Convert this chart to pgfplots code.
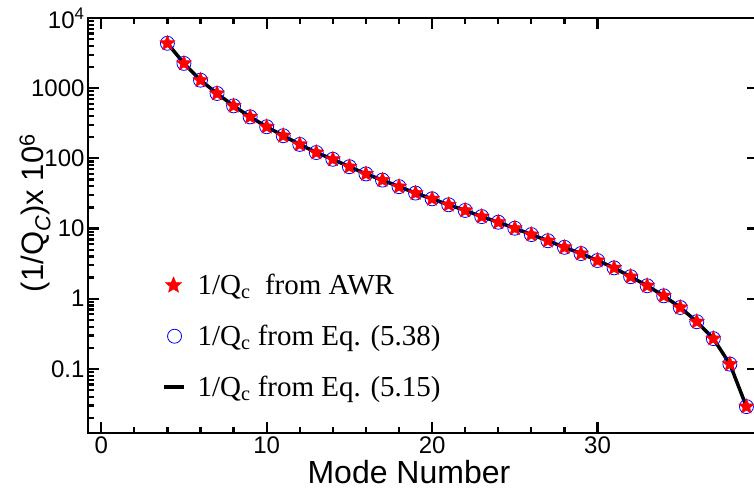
\documentclass[border=0pt]{standalone}
\usepackage{fontspec}
\setmainfont{Liberation Sans}
\newfontfamily\legfont{Liberation Serif}
\usepackage{pgfplots}
\usepackage{pgfplotstable}
\pgfplotsset{compat=1.18}

\pgfdeclareplotmark{fivestar}{%
  \pgfpathmoveto{\pgfpointpolar{90}{\pgfplotmarksize}}%
  \pgfpathlineto{\pgfpointpolar{126}{0.45\pgfplotmarksize}}%
  \pgfpathlineto{\pgfpointpolar{162}{\pgfplotmarksize}}%
  \pgfpathlineto{\pgfpointpolar{198}{0.45\pgfplotmarksize}}%
  \pgfpathlineto{\pgfpointpolar{234}{\pgfplotmarksize}}%
  \pgfpathlineto{\pgfpointpolar{270}{0.45\pgfplotmarksize}}%
  \pgfpathlineto{\pgfpointpolar{306}{\pgfplotmarksize}}%
  \pgfpathlineto{\pgfpointpolar{342}{0.45\pgfplotmarksize}}%
  \pgfpathlineto{\pgfpointpolar{18}{\pgfplotmarksize}}%
  \pgfpathlineto{\pgfpointpolar{54}{0.45\pgfplotmarksize}}%
  \pgfpathclose
  \pgfusepathqfillstroke
}

\pgfplotstableread{
x y
4 4360
5 2255
6 1300
7 840
8 560
9 390
10 282
11 210
12 158
13 121
14 97
15 76
16 60
17 49
18 39.5
19 32
20 26.5
21 21.8
22 18.1
23 14.8
24 12.3
25 10.1
26 8.2
27 6.7
28 5.4
29 4.4
30 3.5
31 2.75
32 2.06
33 1.53
34 1.10
35 0.75
36 0.47
37 0.27
38 0.117
39 0.029
}\datatable

\begin{document}
\begin{tikzpicture}
\useasboundingbox (-88pt,-64pt) rectangle (666pt,433pt);
\begin{axis}[
  scale only axis, width=670pt, height=415pt,
  ymode=log, xmin=-0.8, xmax=39.7, ymin=0.0122, ymax=10000,
  axis line style={line width=2.5pt},
  tick align=inside,
  major tick length=11pt, minor tick length=6pt,
  every tick/.style={line width=2.2pt, black},
  ytick={0.1,1,10,100,1000,10000},
  xtick={0,10,20,30}, xticklabels={0,10,20,30},
  minor x tick num=4,
  ytick pos=left,
  yticklabels={0.1,1,10,100,1000,10\textsuperscript{4}},
  minor ytick={0.02,0.03,0.04,0.05,0.06,0.07,0.08,0.09,
    0.2,0.3,0.4,0.5,0.6,0.7,0.8,0.9,
    2,3,4,5,6,7,8,9,20,30,40,50,60,70,80,90,
    200,300,400,500,600,700,800,900,2000,3000,4000,5000,6000,7000,8000,9000},
  tick label style={font=\fontsize{24}{24}\selectfont},
  xlabel={Mode Number},
  xlabel style={font=\fontsize{32}{32}\selectfont, at={(axis description cs:0.479,-0.094)}, anchor=center},
  ylabel={(1/Q\textsubscript{\textit{C}})x 10\textsuperscript{6}},
  ylabel style={font=\fontsize{31}{31}\selectfont, at={(axis description cs:-0.079,0.53)}, anchor=center},
  legend style={draw=none, fill=none, at={(axis description cs:0.105,0.39)}, anchor=north west,
    font=\legfont\fontsize{29}{29}\selectfont, row sep=27pt,
    nodes={inner sep=1pt},
    /tikz/every odd column/.append style={column sep=11pt}},
  legend cell align=left,
]
\addplot[black, line width=3.5pt, forget plot] table[x=x,y=y] {\datatable};
\addplot[only marks, mark=o, mark size=7pt, blue, mark options={line width=0.8pt}, forget plot] table[x=x,y=y] {\datatable};
\addplot[only marks, mark=fivestar, mark size=8pt, red, mark options={fill=red, draw=red, line width=0.4pt}, forget plot] table[x=x,y=y] {\datatable};
\addlegendimage{legend image code/.code={\draw[red, fill=red, line width=0.4pt, mark=fivestar, mark size=8.5pt] plot coordinates {(11pt,0pt)};}}
\addlegendentry{1/Q\textsubscript{c}\ \ from AWR}
\addlegendimage{legend image code/.code={\draw[blue, line width=0.8pt, mark=o, mark size=7pt] plot coordinates {(12pt,0pt)};}}
\addlegendentry{1/Q\textsubscript{c} from Eq. (5.38)}
\addlegendimage{legend image code/.code={\draw[black, line width=4pt] (1pt,0pt) -- (21pt,0pt);}}
\addlegendentry{1/Q\textsubscript{c} from Eq. (5.15)}
\end{axis}
\begin{axis}[
  scale only axis, width=670pt, height=415pt,
  ymode=log, xmin=-0.8, xmax=39.7, ymin=0.0122, ymax=10000,
  axis line style={line width=2.5pt},
  tick align=inside,
  major tick length=11pt,
  every tick/.style={line width=2.2pt, black},
  ytick={0.1,1,10,100,1000,10000},
  hide x axis, axis y line*=right,
  yticklabels={}, minor ytick={},
]
\addplot[draw=none, forget plot] coordinates {(0,1)};
\end{axis}
\end{tikzpicture}
\end{document}
